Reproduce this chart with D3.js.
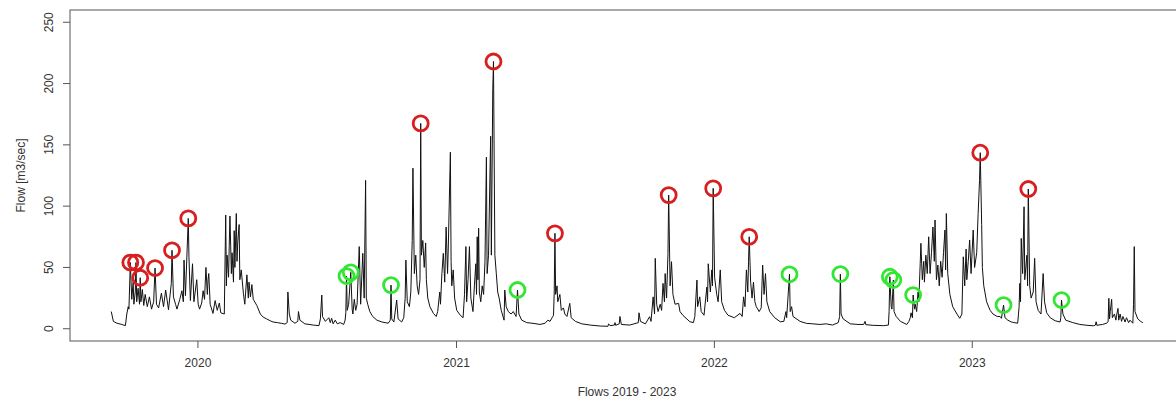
<!DOCTYPE html>
<html>
<head>
<meta charset="utf-8">
<script src="https://cdn.jsdelivr.net/npm/d3@7"></script>
<style>
  body { margin: 0; background: #fff; }
  text { font-family: "Liberation Sans", Arial, sans-serif; fill: #333; }
</style>
</head>
<body>
<div id="chart"></div>
<script>
// daily flow as [days since startDate, flow m3/sec]
const startDate = new Date(2019, 8, 1);
const lastDay = 1460;

const flowRecords = [
  [0,14],[3,6],[8,4.5],[15,3.5],[20,2.5],[22,12],[24,18],[25,16],[27,54],[29,24],
  [31,38],[32,20],[34,30],[35,54],[36,22],[38,33],[40,20],[41,41.6],[42,22],[44,32],
  [46,19],[48,28],[51,18],[54,26],[57,16],[60,22],[62,49.5],[64,20],[67,17],[71,29],
  [74,18],[77,31.6],[81,15.5],[85,37],[86,64],[88,26],[91,20],[93,16],[97,24],[100,31],
  [102,22],[103,56],[105,27],[109,90],[110,58],[112,23],[115,53],[117,22],[121,40],[123,20],
  [125,16],[128,21],[130,31],[132,24],[134,50],[136,28],[137,40],[138,45],[140,20],[144,12.5],
  [147,23],[150,15],[153,21],[155,13],[160,12],[162,92.8],[163,35],[164,60],[166,42],[167,68],
  [168,92],[170,45],[171,62],[173,38],[174,80],[175,50],[177,94],[178,55],[179,70],[181,85],
  [182,40],[184,48],[187,29],[189,20],[192,44],[194,25],[195,38],[197,26],[199,36],[201,24],
  [206,19],[211,12],[215,9.5],[220,8],[225,6.5],[229,5.5],[235,5],[241,4.4],[246,3.8],[249,5],
  [250,30],[252,12],[254,7],[260,4.5],[264,6],[265,14],[267,7],[274,4],[286,3],[294,2.5],
  [296,8],[298,27.5],[299,10],[303,6],[308,9],[310,5],[312,8.5],[314,4],[317,7],[320,4],
  [324,5],[329,3.5],[331,7],[332,13],[333,43],[334,15],[336,20],[339,46],[341,16],[342,12],
  [344,24],[346,15],[348,20],[351,67],[353,20],[356,61.5],[358,25],[360,121],[361,25],[363,20],
  [366,14],[370,10],[376,7],[383,5.5],[392,4.5],[395,7],[396,35.6],[397,8],[400,5.5],[404,23.4],
  [406,8],[411,5.5],[414,9],[416,25],[417,56],[419,22],[422,18],[424,30],[426,72],[427,131],
  [429,45],[431,60],[433,35],[435,28],[437,40],[438,167.5],[439,60],[441,72],[443,50],[445,70],
  [446,40],[448,25],[451,18],[456,12.5],[460,10],[462,14],[465,30],[466,20],[468,45],[470,61.5],
  [472,38],[474,83],[476,45],[477,65],[480,144],[481,55],[482,35],[484,48],[486,25],[489,15],
  [494,11],[498,9],[500,28],[502,67],[503,22],[505,40],[507,67],[509,25],[512,14],[514,35],
  [516,53],[517,28],[518,75],[519,40],[520,82],[521,30],[523,22],[525,35],[527,28],[529,55],
  [531,140],[532,45],[534,60],[537,157],[538,60],[540,195],[541,218],[543,60],[545,45],[547,30],
  [549,25],[552,15],[556,7],[557,31.6],[559,18],[562,14],[566,12],[569,14],[573,10],[575,31.6],
  [577,12],[581,7],[588,5],[597,4.4],[607,3.5],[614,4.5],[618,7],[621,6],[624,9],[626,11],
  [627,30],[628,77.8],[629,28],[631,35],[632,22],[635,28],[637,15],[640,17],[642,12],[645,10],
  [649,20.7],[651,9],[657,6],[666,4],[678,3],[692,2.2],[703,2],[704,4],[706,2.5],[712,3],
  [713,5],[714,2.8],[719,4],[720,10],[722,3.5],[734,3],[746,5],[747,13],[749,6],[756,4],
  [762,9.8],[764,6],[767,26],[769,12],[770,57.4],[772,20],[774,14],[777,20],[779,15],[781,37],
  [783,22],[784,45],[786,25],[788,61.5],[789,109],[791,35],[793,54.7],[795,28],[798,20],[803,20.7],
  [805,14],[809,11],[819,5.7],[824,5],[826,10],[829,39.7],[830,18],[833,26],[835,14],[839,11],
  [843,34],[844,22],[845,53],[848,30],[850,48],[851,35],[852,114.5],[854,42],[857,28],[859,22],
  [862,48],[864,22],[868,15],[873,11],[882,9],[890,12.5],[893,10],[895,26],[897,18],[899,48],
  [901,30],[902,54.7],[903,75],[905,38],[907,25],[909,38],[911,22],[913,18],[917,14],[920,17],
  [922,52],[924,28],[926,45],[928,22],[932,14],[939,9],[947,5.7],[952,6],[955,14],[956,9],
  [960,44.4],[961,14],[963,18],[965,10],[975,6],[984,4.4],[993,4],[1003,3.5],[1012,4],[1021,3],
  [1029,5],[1031,10],[1032,44.6],[1033,12],[1036,8],[1046,4],[1057,3.5],[1065,3.5],[1067,6],[1068,3.3],
  [1078,2.8],[1093,2.5],[1100,3],[1101,14],[1102,42.4],[1104,18],[1105,16],[1107,39.7],[1108,14],[1111,10],
  [1117,6],[1126,3.5],[1129,6],[1131,9],[1132,13],[1134,9],[1135,27.5],[1137,16],[1138,20],[1140,14],
  [1142,30],[1143,22],[1145,53],[1146,69.7],[1148,40],[1150,55],[1151,38],[1153,60],[1155,45],[1157,75],
  [1159,45],[1161,62],[1163,83],[1165,55],[1166,88.7],[1168,40],[1170,52],[1172,35],[1174,55],[1176,42],
  [1178,62],[1180,80.5],[1181,48],[1182,94],[1184,45],[1187,28],[1191,18],[1197,12],[1201,8.5],[1204,12],
  [1206,58.7],[1208,35],[1210,65],[1211,40],[1213,55],[1215,72.4],[1217,45],[1220,80.5],[1222,50],[1225,62],
  [1227,94],[1229,121],[1230,143.6],[1232,85],[1233,50],[1235,35],[1239,22],[1244,15],[1248,12],[1254,10],
  [1258,10],[1260,8.5],[1263,19.3],[1265,9],[1269,7],[1274,5.5],[1279,4.9],[1283,4.5],[1285,18],[1286,37],
  [1287,22],[1288,73.7],[1290,45],[1292,99.5],[1293,40],[1296,60],[1297,35],[1298,114],[1300,35],[1302,25],
  [1305,30],[1307,57.4],[1309,22],[1312,15],[1316,12],[1319,45],[1321,22],[1324,13],[1329,9],[1336,6.5],
  [1343,5.5],[1344,9],[1345,23.4],[1347,12],[1351,7],[1361,5],[1371,3.5],[1381,2.8],[1390,2.4],[1393,3],
  [1394,5.7],[1395,2.8],[1403,3.5],[1409,4.5],[1411,6],[1412,24.8],[1413,8],[1414,14],[1416,24],[1417,9],
  [1420,12],[1422,7],[1423,11],[1425,16.6],[1426,7],[1428,12],[1430,6],[1432,10],[1435,5.5],[1437,9],
  [1440,5],[1442,7],[1446,4.5],[1447,20],[1448,67],[1449,14],[1453,8],[1457,6],[1460,5]
];

// marked peaks
const redDays   = [27, 35, 41, 62, 86, 109, 438, 541, 628, 789, 852, 903, 1230, 1298];
const redFlows  = [54, 54, 41.6, 49.5, 64, 90, 167.5, 218, 77.8, 109, 114.5, 75, 143.6, 114];
const greenDays  = [333, 339, 396, 575, 960, 1032, 1102, 1107, 1135, 1263, 1345];
const greenFlows = [43, 46, 35.6, 31.6, 44.4, 44.6, 42.4, 39.7, 27.5, 19.3, 23.4];

const yTicks = [0, 50, 100, 150, 200, 250];
const xTickYears = [2020, 2021, 2022, 2023];
const yTitle = "Flow [m3/sec]";
const xTitle = "Flows 2019 - 2023";

const W = 1176, H = 400;
const plot = { left: 70, top: 10, right: 1184, bottom: 341 };

const svg = d3.select("#chart")
  .append("svg")
  .attr("width", W)
  .attr("height", H);

const dayToDate = d => d3.timeDay.offset(startDate, d);
const series = flowRecords.map(r => ({ date: dayToDate(r[0]), value: r[1] }));

// R style 4% padding on both axes
const t0 = +startDate, t1 = +dayToDate(lastDay);
const padT = (t1 - t0) * 0.04;
const x = d3.scaleTime()
  .domain([new Date(t0 - padT), new Date(t1 + padT)])
  .range([plot.left, plot.right]);

const y = d3.scaleLinear()
  .domain([-10, 260])
  .range([plot.bottom, plot.top]);

// frame
svg.append("rect")
  .attr("x", plot.left)
  .attr("y", plot.top)
  .attr("width", plot.right - plot.left)
  .attr("height", plot.bottom - plot.top)
  .attr("fill", "none")
  .attr("stroke", "#555")
  .attr("stroke-width", 1);

// x axis
const xAxis = d3.axisBottom(x)
  .tickValues(xTickYears.map(yr => new Date(yr, 0, 1)))
  .tickFormat(d3.timeFormat("%Y"))
  .tickSize(7)
  .tickPadding(10.5);

const gx = svg.append("g")
  .attr("transform", `translate(0, ${plot.bottom})`)
  .call(xAxis);
gx.select(".domain").remove();
gx.selectAll("line").attr("stroke", "#555");
gx.selectAll("text")
  .attr("font-size", "12px")
  .attr("font-family", "Liberation Sans, Arial, sans-serif")
  .attr("fill", "#333");

// y axis (labels turned like R's las = 0)
svg.selectAll(".ytick")
  .data(yTicks)
  .join("line")
  .attr("class", "ytick")
  .attr("x1", plot.left - 7)
  .attr("x2", plot.left)
  .attr("y1", d => y(d))
  .attr("y2", d => y(d))
  .attr("stroke", "#555");

svg.selectAll(".ylab")
  .data(yTicks)
  .join("text")
  .attr("class", "ylab")
  .attr("transform", d => `translate(53, ${y(d)}) rotate(-90)`)
  .attr("text-anchor", "middle")
  .attr("font-size", "12px")
  .text(d => d);

// titles
svg.append("text")
  .attr("transform", `translate(25, ${(plot.top + plot.bottom) / 2}) rotate(-90)`)
  .attr("text-anchor", "middle")
  .attr("font-size", "12px")
  .text(yTitle);

svg.append("text")
  .attr("x", (plot.left + plot.right) / 2)
  .attr("y", 396)
  .attr("text-anchor", "middle")
  .attr("font-size", "12px")
  .text(xTitle);

// flow line
const line = d3.line()
  .x(d => x(d.date))
  .y(d => y(d.value));

svg.append("path")
  .datum(series)
  .attr("d", line)
  .attr("fill", "none")
  .attr("stroke", "#111")
  .attr("stroke-width", 1);

// peak markers
svg.selectAll(".red-peak")
  .data(redDays.map((d, i) => ({ date: dayToDate(d), value: redFlows[i] })))
  .join("circle")
  .attr("class", "red-peak")
  .attr("cx", d => x(d.date))
  .attr("cy", d => y(d.value))
  .attr("r", 7.5)
  .attr("fill", "none")
  .attr("stroke", "#d81e1e")
  .attr("stroke-width", 2.8);

svg.selectAll(".green-peak")
  .data(greenDays.map((d, i) => ({ date: dayToDate(d), value: greenFlows[i] })))
  .join("circle")
  .attr("class", "green-peak")
  .attr("cx", d => x(d.date))
  .attr("cy", d => y(d.value))
  .attr("r", 7.5)
  .attr("fill", "none")
  .attr("stroke", "#33e633")
  .attr("stroke-width", 2.8);
</script>
</body>
</html>
